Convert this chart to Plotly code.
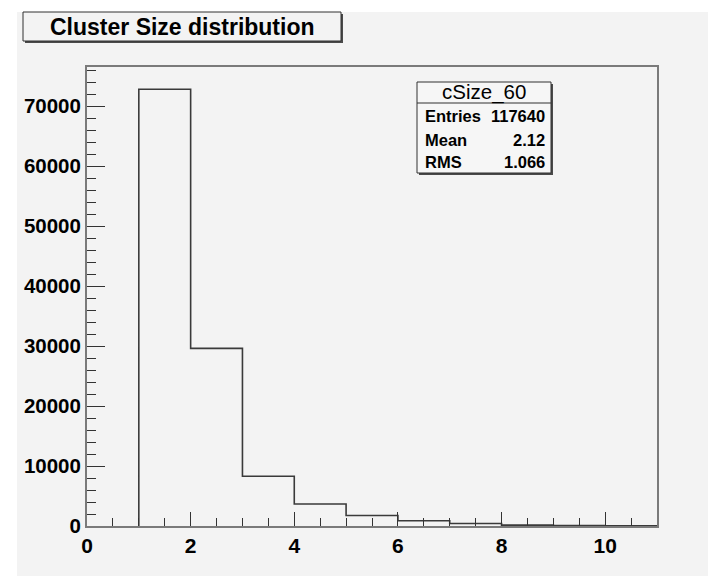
import plotly.graph_objects as go

# Cluster size histogram (unit-width bins from 0 to 11)
bin_edges = [0, 1, 2, 3, 4, 5, 6, 7, 8, 9, 10, 11]
bin_counts = [0, 72800, 29600, 8280, 3670, 1750, 870, 420, 150, 60, 30]

hist_name = "cSize_60"
stat_labels = ["Entries", "Mean", "RMS"]
stat_values = ["117640", "2.12", "1.066"]
title_text = "Cluster Size distribution"

x_tick_vals = [0, 2, 4, 6, 8, 10]
x_tick_text = ["0", "2", "4", "6", "8", "10"]
y_tick_vals = [0, 10000, 20000, 30000, 40000, 50000, 60000, 70000]
y_tick_text = ["0", "10000", "20000", "30000", "40000", "50000", "60000", "70000"]

W, H = 708, 576
ML, MR, MT, MB = 87, 51, 67, 50
PW, PH = W - ML - MR, H - MT - MB

def px(x):
    return (x - ML) / PW

def py(y):
    return (H - MB - y) / PH

# step outline through the bin contents
first = next(i for i, c in enumerate(bin_counts) if c > 0)
sx = [bin_edges[first]]
sy = [0]
for i in range(first, len(bin_counts)):
    sx.append(bin_edges[i])
    sy.append(bin_counts[i])
sx.append(bin_edges[-1])
sy.append(bin_counts[-1])
sx.append(bin_edges[-1])
sy.append(0)

fig = go.Figure()
fig.add_trace(go.Scatter(
    x=sx, y=sy, mode="lines", line=dict(shape="hv", color="#3a3a3a", width=1.6),
    hoverinfo="skip", showlegend=False, cliponaxis=False,
))

FONT = "Liberation Sans, Arial, Helvetica, sans-serif"
BG = "#f3f3f3"

shapes = [
    # white strip along the top and left of the canvas
    dict(type="rect", xref="paper", yref="paper", x0=px(0), x1=px(W), y0=py(12), y1=py(0),
         fillcolor="white", line=dict(width=0), layer="below"),
    dict(type="rect", xref="paper", yref="paper", x0=px(0), x1=px(17), y0=py(H), y1=py(0),
         fillcolor="white", line=dict(width=0), layer="below"),
    # title box with shadow
    dict(type="rect", xref="paper", yref="paper", x0=px(25), x1=px(343), y0=py(43), y1=py(14),
         fillcolor="#4a4a4a", line=dict(width=0)),
    dict(type="rect", xref="paper", yref="paper", x0=px(23), x1=px(341), y0=py(41), y1=py(12),
         fillcolor=BG, line=dict(color="#303030", width=1)),
    # stats box with shadow
    dict(type="rect", xref="paper", yref="paper", x0=px(419), x1=px(553), y0=py(175), y1=py(84),
         fillcolor="#4a4a4a", line=dict(width=0)),
    dict(type="rect", xref="paper", yref="paper", x0=px(417), x1=px(551), y0=py(173), y1=py(82),
         fillcolor="#f6f6f6", line=dict(color="#303030", width=1)),
    dict(type="line", xref="paper", yref="paper", x0=px(417), x1=px(551), y0=py(103), y1=py(103),
         line=dict(color="#303030", width=1)),
]

annotations = [
    dict(text=f"<b>{title_text}</b>", xref="paper", yref="paper", x=px(182), y=py(27),
         showarrow=False, font=dict(family=FONT, size=23, color="black"),
         xanchor="center", yanchor="middle"),
    dict(text=hist_name, xref="paper", yref="paper", x=px(484), y=py(92),
         showarrow=False, font=dict(family=FONT, size=20.5, color="black"),
         xanchor="center", yanchor="middle"),
]
row_y = [116, 140, 162]
for lab, val, yy in zip(stat_labels, stat_values, row_y):
    annotations.append(dict(text=f"<b>{lab}</b>", xref="paper", yref="paper", x=px(423), y=py(yy),
                            showarrow=False, font=dict(family=FONT, size=16.5, color="black"),
                            xanchor="left", yanchor="middle"))
    annotations.append(dict(text=f"<b>{val}</b>", xref="paper", yref="paper", x=px(547), y=py(yy),
                            showarrow=False, font=dict(family=FONT, size=16.5, color="black"),
                            xanchor="right", yanchor="middle"))

fig.update_layout(
    width=W, height=H,
    margin=dict(l=ML, r=MR, t=MT, b=MB, pad=0),
    paper_bgcolor=BG, plot_bgcolor=BG,
    shapes=shapes, annotations=annotations,
    showlegend=False,
    xaxis=dict(
        range=[0, 11], tickvals=x_tick_vals, ticktext=x_tick_text,
        ticks="inside", ticklen=14, tickwidth=1,
        tickcolor="#333", showgrid=False, zeroline=False,
        showline=True, linecolor="#7a7a7a", linewidth=2, mirror=True,
        tickfont=dict(family=FONT, size=21, color="black", weight="bold"),
        minor=dict(dtick=0.5, tick0=0, ticks="inside", ticklen=8, tickcolor="#333", showgrid=False),
        fixedrange=True,
    ),
    yaxis=dict(
        range=[0, 76500], tickvals=y_tick_vals, ticktext=y_tick_text,
        ticks="inside", ticklen=18, tickwidth=1,
        tickcolor="#333", showgrid=False, zeroline=False,
        showline=True, linecolor="#7a7a7a", linewidth=2, mirror=True,
        tickfont=dict(family=FONT, size=20.5, color="black", weight="bold"),
        minor=dict(dtick=2000, tick0=0, ticks="inside", ticklen=9, tickcolor="#333", showgrid=False),
        ticklabelstandoff=0,
        fixedrange=True,
    ),
)

fig.write_html("out.html")
